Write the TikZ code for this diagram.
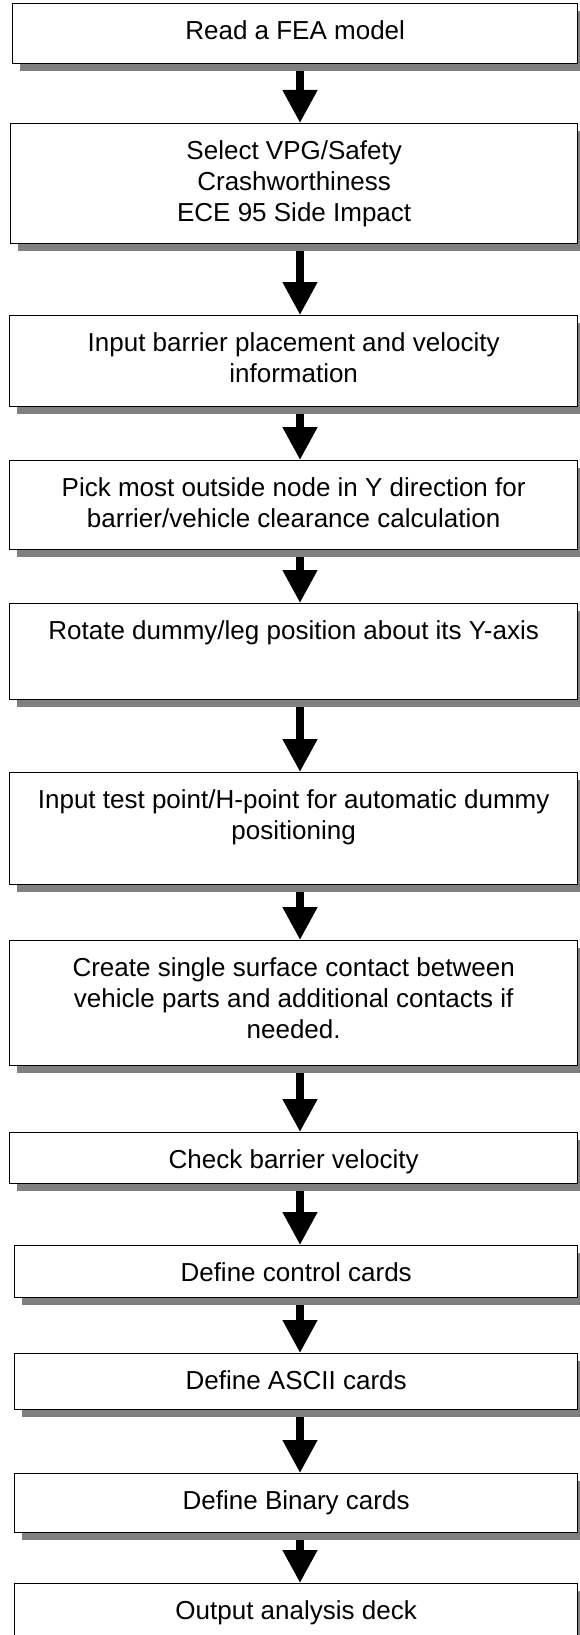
\documentclass[tikz,border=0pt]{standalone}
\usepackage{fontspec}
\setmainfont{Liberation Sans}
\usetikzlibrary{arrows.meta,shadows,backgrounds}

\definecolor{shadowgray}{RGB}{128,128,128}
% text of a box, set from the top of a box of fixed height
\newcommand{\steptext}[2]{\parbox[c][#1][t]{540pt}{\centering\rule{0pt}{36pt}#2}}

\tikzset{
  stepbox/.style={draw, line width=1.3pt, fill=white, anchor=north west,
    inner sep=0pt, minimum width=568pt, font=\fontsize{26pt}{31pt}\selectfont,
    drop shadow={shadow xshift=7pt, shadow yshift=-7pt, fill=shadowgray, opacity=1}},
  flowarrow/.style={line width=7.7pt, -{Triangle[width=33pt,length=33pt]}}
}

\begin{document}
\begin{tikzpicture}[x=1pt,y=-1pt]
  \useasboundingbox (0,0) rectangle (579,1635);
  \coordinate (axis) at (300,0);

  \node[stepbox, minimum width=565pt] (read) at (12,3) {\steptext{60pt}{Read a FEA model}};
  \node[stepbox, minimum width=567pt] (select) at (10,123) {\steptext{120pt}{Select VPG/Safety\\Crashworthiness\\ECE 95 Side Impact}};
  \node[stepbox] (barrier) at (9,315) {\steptext{91pt}{Input barrier placement and velocity\\information}};
  \node[stepbox] (pick) at (9,460) {\steptext{89pt}{Pick most outside node in Y direction for\\barrier/vehicle clearance calculation}};
  \node[stepbox] (rotate) at (9,603) {\steptext{96pt}{Rotate dummy/leg position about its Y-axis}};
  \node[stepbox] (hpoint) at (9,772) {\steptext{112pt}{Input test point/H-point for automatic dummy\\positioning}};
  \node[stepbox] (contact) at (9,940) {\steptext{125pt}{Create single surface contact between\\vehicle parts and additional contacts if\\needed.}};
  \node[stepbox] (velocity) at (9,1132) {\steptext{51pt}{Check barrier velocity}};
  \node[stepbox, minimum width=563pt] (control) at (14,1245) {\steptext{52pt}{Define control cards}};
  \node[stepbox, minimum width=563pt] (ascii) at (14,1353) {\steptext{56pt}{Define ASCII cards}};
  \node[stepbox, minimum width=563pt] (binary) at (14,1473) {\steptext{59pt}{Define Binary cards}};
  \node[stepbox, minimum width=563pt] (output) at (14,1583) {\steptext{70pt}{Output analysis deck}};

  % arrows go under the boxes and their shadows
  \begin{scope}[on background layer]
    \foreach \src/\dst in {read/select, select/barrier, barrier/pick, pick/rotate,
        rotate/hpoint, hpoint/contact, contact/velocity, velocity/control,
        control/ascii, ascii/binary, binary/output}
      \draw[flowarrow] (\src.south -| axis) -- (\dst.north -| axis);
  \end{scope}
\end{tikzpicture}
\end{document}
